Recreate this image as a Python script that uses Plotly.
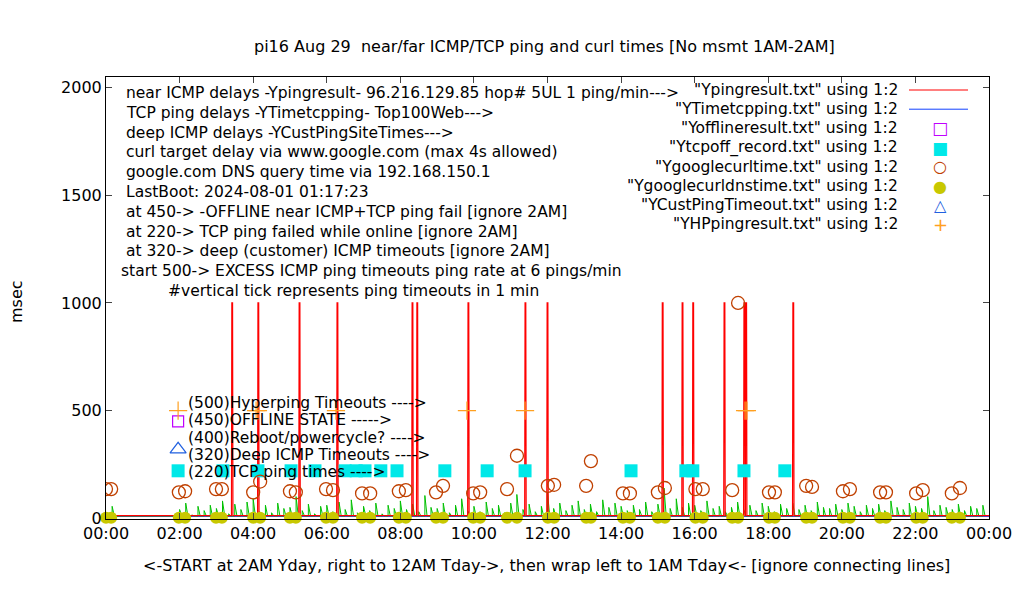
import plotly.graph_objects as go
import numpy as np

# ---- data (hours since midnight, msec) ----
red_spike_t = [3.42, 4.13, 5.25, 6.28, 8.32, 8.45, 9.84, 11.39, 11.99, 15.12, 15.66, 15.95, 16.80, 17.34, 17.39, 18.67]
red_spike_v = [1000, 1000, 1000, 1000, 1000, 1000, 1000, 1000, 1000, 1000, 1000, 1000, 1000, 1000, 1000, 1000]
red_base = 12

green_t = [0.0, 1/6] + list(np.arange(11/6, 24, 1/6))
green_v = [20, 55,
           10,
           40, 70, 15, 55, 35, 60,
           45, 80, 20, 65, 40, 75,
           90, 30, 60, 25, 70, 45,
           50, 100, 35, 65, 20, 55,
           60, 30, 75, 40, 85, 25,
           55, 35, 70, 20, 60, 45,
           80, 40, 65, 30, 105, 50,
           45, 70, 25, 60, 90, 35,
           55, 30, 75, 45, 60, 25,
           70, 110, 40, 65, 30, 55,
           120, 45, 70, 35, 60, 80,
           40, 65, 30, 85, 50, 70,
           55, 35, 60, 40, 75, 30,
           65, 140, 45, 90, 50, 70,
           60, 35, 80, 45, 55, 30,
           50, 75, 40, 60, 35, 70,
           55, 30, 65, 45, 70, 40,
           60, 35, 75, 50, 45, 65,
           40, 70, 55, 30, 60, 45,
           65, 35, 80, 50, 40, 70,
           55, 45, 100, 35, 60, 50,
           40, 65, 35, 55, 45, 60]

tcpoff_t = [1.96, 3.18, 4.13, 5.03, 5.68, 6.50, 6.80, 7.04, 7.47, 7.91, 9.21, 10.36, 11.39, 14.27, 15.76, 15.95, 17.34, 18.45]
tcpoff_v = [220] * len(tcpoff_t)

offline_t = [1.96]
offline_v = [450]
deep_t = [1.96]
deep_v = [320]

hp_t = [1.96, 4.08, 4.13, 6.25, 9.81, 11.39, 17.37, 17.42]
hp_v = [500, 500, 500, 500, 500, 500, 500, 500]

curl_t = [0.0, 0.14, 1.98, 2.15, 2.99, 3.15, 4.0, 4.19, 5.0, 5.16, 5.98, 6.17, 6.96, 7.18,
          7.96, 8.15, 8.97, 9.16, 9.98, 10.17, 10.9, 11.17, 12.01, 12.18, 13.05, 13.18,
          14.05, 14.24, 15.0, 15.19, 16.02, 16.22, 17.02, 17.18, 18.02, 18.18, 19.03, 19.19,
          20.03, 20.22, 21.04, 21.2, 22.02, 22.2, 22.99, 23.21]
curl_v = [135, 135, 120, 125, 135, 135, 120, 170, 125, 120, 135, 130, 115, 115,
          125, 130, 120, 150, 115, 120, 135, 290, 150, 155, 150, 265,
          115, 115, 120, 140, 135, 135, 130, 1000, 120, 120, 150, 145,
          125, 135, 120, 120, 115, 130, 115, 140]

dns_t = curl_t
dns_v = [2] * len(curl_t)

tick_vals = [0, 2, 4, 6, 8, 10, 12, 14, 16, 18, 20, 22, 24]
tick_text = ["00:00", "02:00", "04:00", "06:00", "08:00", "10:00", "12:00",
             "14:00", "16:00", "18:00", "20:00", "22:00", "00:00"]

# ---- build ----
FONT = "DejaVu Sans"
TS = 15.5   # text size
fig = go.Figure()

fig.add_trace(go.Scatter(x=[0, 0.2, 1.9, 24], y=[8, 8, 8, 8], mode="lines",
                         line=dict(color="#1040ff", width=1)))

gx, gy = [], []
for t, v in zip(green_t, green_v):
    gx += [t, t, t + 0.06]
    gy += [10, v, 10]
fig.add_trace(go.Scatter(x=gx, y=gy, mode="lines", line=dict(color="#00c000", width=1)))

rx, ry = [0], [red_base]
for t, v in zip(red_spike_t, red_spike_v):
    rx += [t - 0.01, t, t + 0.02, t + 0.03]
    ry += [red_base, v, v, red_base]
rx.append(24); ry.append(red_base)
fig.add_trace(go.Scatter(x=rx, y=ry, mode="lines", line=dict(color="#ff0000", width=1.2)))

fig.add_trace(go.Scatter(x=offline_t, y=offline_v, mode="markers",
                         marker=dict(symbol="square-open", size=11, color="#c000ff", line=dict(width=1.2))))
fig.add_trace(go.Scatter(x=tcpoff_t, y=tcpoff_v, mode="markers",
                         marker=dict(symbol="square", size=13, color="#00e8e8")))
fig.add_trace(go.Scatter(x=curl_t, y=curl_v, mode="markers",
                         marker=dict(symbol="circle-open", size=13, color="#c04000", line=dict(width=1.3))))
fig.add_trace(go.Scatter(x=dns_t, y=dns_v, mode="markers",
                         marker=dict(symbol="circle", size=12, color="#c8c800"), cliponaxis=False))
fig.add_trace(go.Scatter(x=deep_t, y=deep_v, mode="markers",
                         marker=dict(symbol="triangle-up-open", size=14, color="#2060e0", line=dict(width=1.2))))
fig.add_trace(go.Scatter(x=hp_t, y=hp_v, mode="markers",
                         marker=dict(symbol="cross-thin-open", size=13, color="#ffa020", line=dict(width=1.2, color="#ffa020"))))

W, H = 1020, 600
OX, OY = 5, 8   # page offset of the rendered figure
L, R, T, B = 103, 986, 77, 519   # target pixel positions of plot area
def px(x): return (x - L) / (R - L)
def py(y): return (B - y) / (B - T)

ann = []
def text(x, y, s, anchor="left", size=TS, color="black"):
    ann.append(dict(x=px(x), y=py(y), xref="paper", yref="paper", text=s, showarrow=False,
                    xanchor=anchor, yanchor="middle", font=dict(family=FONT, size=size, color=color)))

left_lines = [
    "near ICMP delays -Ypingresult- 96.216.129.85 hop# 5UL 1 ping/min--->",
    "TCP ping delays -YTimetcpping- Top100Web--->",
    "deep ICMP delays -YCustPingSiteTimes--->",
    "curl target delay via www.google.com (max 4s allowed)",
    "google.com DNS query time via 192.168.150.1",
    "LastBoot: 2024-08-01 01:17:23",
    "at 450-> -OFFLINE near ICMP+TCP ping fail [ignore 2AM]",
    "at 220-> TCP ping failed while online [ignore 2AM]",
    "at 320-> deep (customer) ICMP timeouts [ignore 2AM]",
]
for i, s in enumerate(left_lines):
    text(121, 93 + i * 19.8, s)
text(116, 93 + 9 * 19.8, "start 500-> EXCESS ICMP ping timeouts ping rate at 6 pings/min")
text(163, 93 + 10 * 19.8, "#vertical tick represents ping timeouts in 1 min")

low_lines = ["(500)Hyperping Timeouts ---->", "(450)OFFLINE STATE ----->",
             "(400)Reboot/powercycle? ---->", "(320)Deep ICMP Timeouts ---->",
             "(220)TCP ping times ---->"]
for i, s in enumerate(low_lines):
    text(183, 403 + i * 17.3, s)

keys = ['"Ypingresult.txt" using 1:2', '"YTimetcpping.txt" using 1:2',
        '"Yofflineresult.txt" using 1:2', '"Ytcpoff_record.txt" using 1:2',
        '"Ygooglecurltime.txt" using 1:2', '"Ygooglecurldnstime.txt" using 1:2',
        '"YCustPingTimeout.txt" using 1:2', '"YHPpingresult.txt" using 1:2']
glyphs = [None, None, ("□", "#c000ff", 17), ("■", "#00e8e8", 17), ("○", "#c04000", 16),
          ("●", "#c8c800", 16), ("△", "#2060e0", 16), ("+", "#ffa020", 18)]
shapes = []
for i, s in enumerate(keys):
    yy = 90 + i * 19.2
    text(897, yy, s, anchor="right")
    if i < 2:
        col = "#ff0000" if i == 0 else "#1040ff"
        shapes.append(dict(type="line", xref="paper", yref="paper", x0=px(906), x1=px(965),
                           y0=py(yy), y1=py(yy), line=dict(color=col, width=1)))
    else:
        g, c, sz = glyphs[i]
        ann.append(dict(x=px(937), y=py(yy), xref="paper", yref="paper", text=g, showarrow=False,
                        xanchor="center", yanchor="middle", font=dict(family=FONT, size=sz, color=c)))

ann.append(dict(x=px(541), y=py(46), xref="paper", yref="paper",
                text="pi16 Aug 29  near/far ICMP/TCP ping and curl times [No msmt 1AM-2AM]",
                showarrow=False, xanchor="center", yanchor="middle", font=dict(family=FONT, size=16)))
ann.append(dict(x=px(543), y=py(565), xref="paper", yref="paper",
                text="<-START at 2AM Yday, right to 12AM Tday->, then wrap left to 1AM Tday<- [ignore connecting lines]",
                showarrow=False, xanchor="center", yanchor="middle", font=dict(family=FONT, size=16)))
ann.append(dict(x=px(13), y=py(302), xref="paper", yref="paper", text="msec",
                textangle=-90, showarrow=False, xanchor="center", yanchor="middle",
                font=dict(family=FONT, size=16)))

fig.update_layout(
    width=W, height=H, showlegend=False,
    margin=dict(l=L - OX, r=W - R + OX, t=T - OY, b=H - B + OY),
    paper_bgcolor="white", plot_bgcolor="white",
    font=dict(family=FONT, size=16, color="black"),
    annotations=ann, shapes=shapes,
    xaxis=dict(range=[0, 24], tickvals=tick_vals, ticktext=tick_text, showgrid=False, zeroline=False,
               showline=True, linecolor="black", linewidth=1, mirror="allticks", ticks="inside",
               ticklen=6, tickfont=dict(size=16)),
    yaxis=dict(range=[-4, 2050], tickvals=[0, 500, 1000, 1500, 2000], showgrid=False, zeroline=False,
               showline=True, linecolor="black", linewidth=1, mirror="allticks", ticks="inside",
               ticklen=6, tickfont=dict(size=16)),
)
fig.write_html("out.html")
